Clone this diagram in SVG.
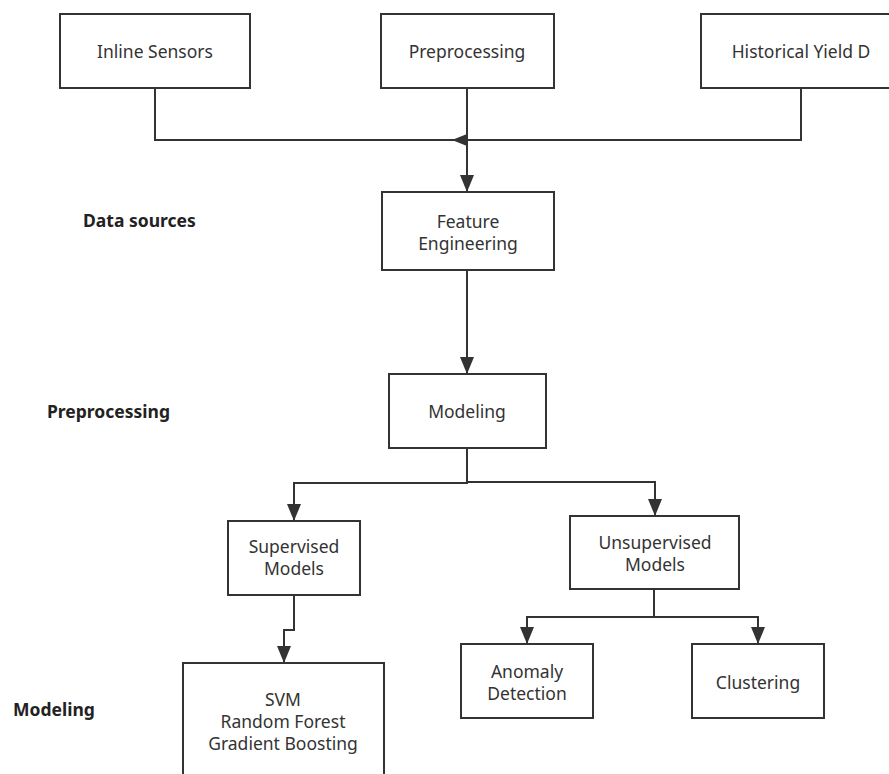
<svg xmlns="http://www.w3.org/2000/svg" width="889" height="774" viewBox="0 0 889 774">
<style>
.box{fill:#fff;stroke:#333;stroke-width:2}
.t{font-family:"Noto Sans","Open Sans",sans-serif;font-size:17.5px;fill:#333;text-anchor:middle}
.lbl{font-family:"Noto Sans","Open Sans",sans-serif;font-size:17.5px;font-weight:bold;fill:#222}
.c{fill:none;stroke:#333;stroke-width:2}
</style>
<defs>
<marker id="ah" markerWidth="17" markerHeight="14" refX="17" refY="7" orient="auto" markerUnits="userSpaceOnUse">
<path d="M0,0 L17,7 L0,14 Z" fill="#333"/>
</marker>
</defs>
<rect width="889" height="774" fill="#fff"/>
<g id="labels">
<text class="lbl" x="83" y="227">Data sources</text>
<text class="lbl" x="47" y="418">Preprocessing</text>
<text class="lbl" x="13" y="716">Modeling</text>
</g>
<g id="connectors">
<path class="c" d="M155,88 V140 H801 V88"/>
<path class="c" d="M467,88 V192" marker-end="url(#ah)"/>
<path d="M452,140 L467,134 L467,146 Z" fill="#333"/>
<path class="c" d="M467,270 V374" marker-end="url(#ah)"/>
<path class="c" d="M467,448 V483 H294 V521" marker-end="url(#ah)"/>
<path class="c" d="M467,482 H655 V516" marker-end="url(#ah)"/>
<path class="c" d="M294,595 V630 H284 V663" marker-end="url(#ah)"/>
<path class="c" d="M654,589 V617 H527 V644" marker-end="url(#ah)"/>
<path class="c" d="M654,617 H758 V644" marker-end="url(#ah)"/>
</g>
<g id="inline-sensors"><rect class="box" x="60" y="14" width="190" height="74"/><text class="t" x="155" y="58">Inline Sensors</text></g>
<g id="preprocessing"><rect class="box" x="381" y="14" width="173" height="74"/><text class="t" x="467" y="58">Preprocessing</text></g>
<g id="historical"><rect class="box" x="701" y="14" width="200" height="74"/><text class="t" x="801" y="58">Historical Yield D</text></g>
<g id="feature-engineering"><rect class="box" x="382" y="192" width="172" height="78"/><text class="t" x="468" y="228">Feature</text><text class="t" x="468" y="250">Engineering</text></g>
<g id="modeling"><rect class="box" x="389" y="374" width="157" height="74"/><text class="t" x="467" y="418">Modeling</text></g>
<g id="supervised"><rect class="box" x="228" y="521" width="132" height="74"/><text class="t" x="294" y="553">Supervised</text><text class="t" x="294" y="575">Models</text></g>
<g id="unsupervised"><rect class="box" x="570" y="516" width="169" height="73"/><text class="t" x="655" y="549">Unsupervised</text><text class="t" x="655" y="571">Models</text></g>
<g id="svm"><rect class="box" x="183" y="663" width="201" height="120"/><text class="t" x="283" y="706">SVM</text><text class="t" x="283" y="728">Random Forest</text><text class="t" x="283" y="750">Gradient Boosting</text></g>
<g id="anomaly"><rect class="box" x="461" y="644" width="132" height="74"/><text class="t" x="527" y="678">Anomaly</text><text class="t" x="527" y="700">Detection</text></g>
<g id="clustering"><rect class="box" x="692" y="644" width="132" height="74"/><text class="t" x="758" y="689">Clustering</text></g>
</svg>
